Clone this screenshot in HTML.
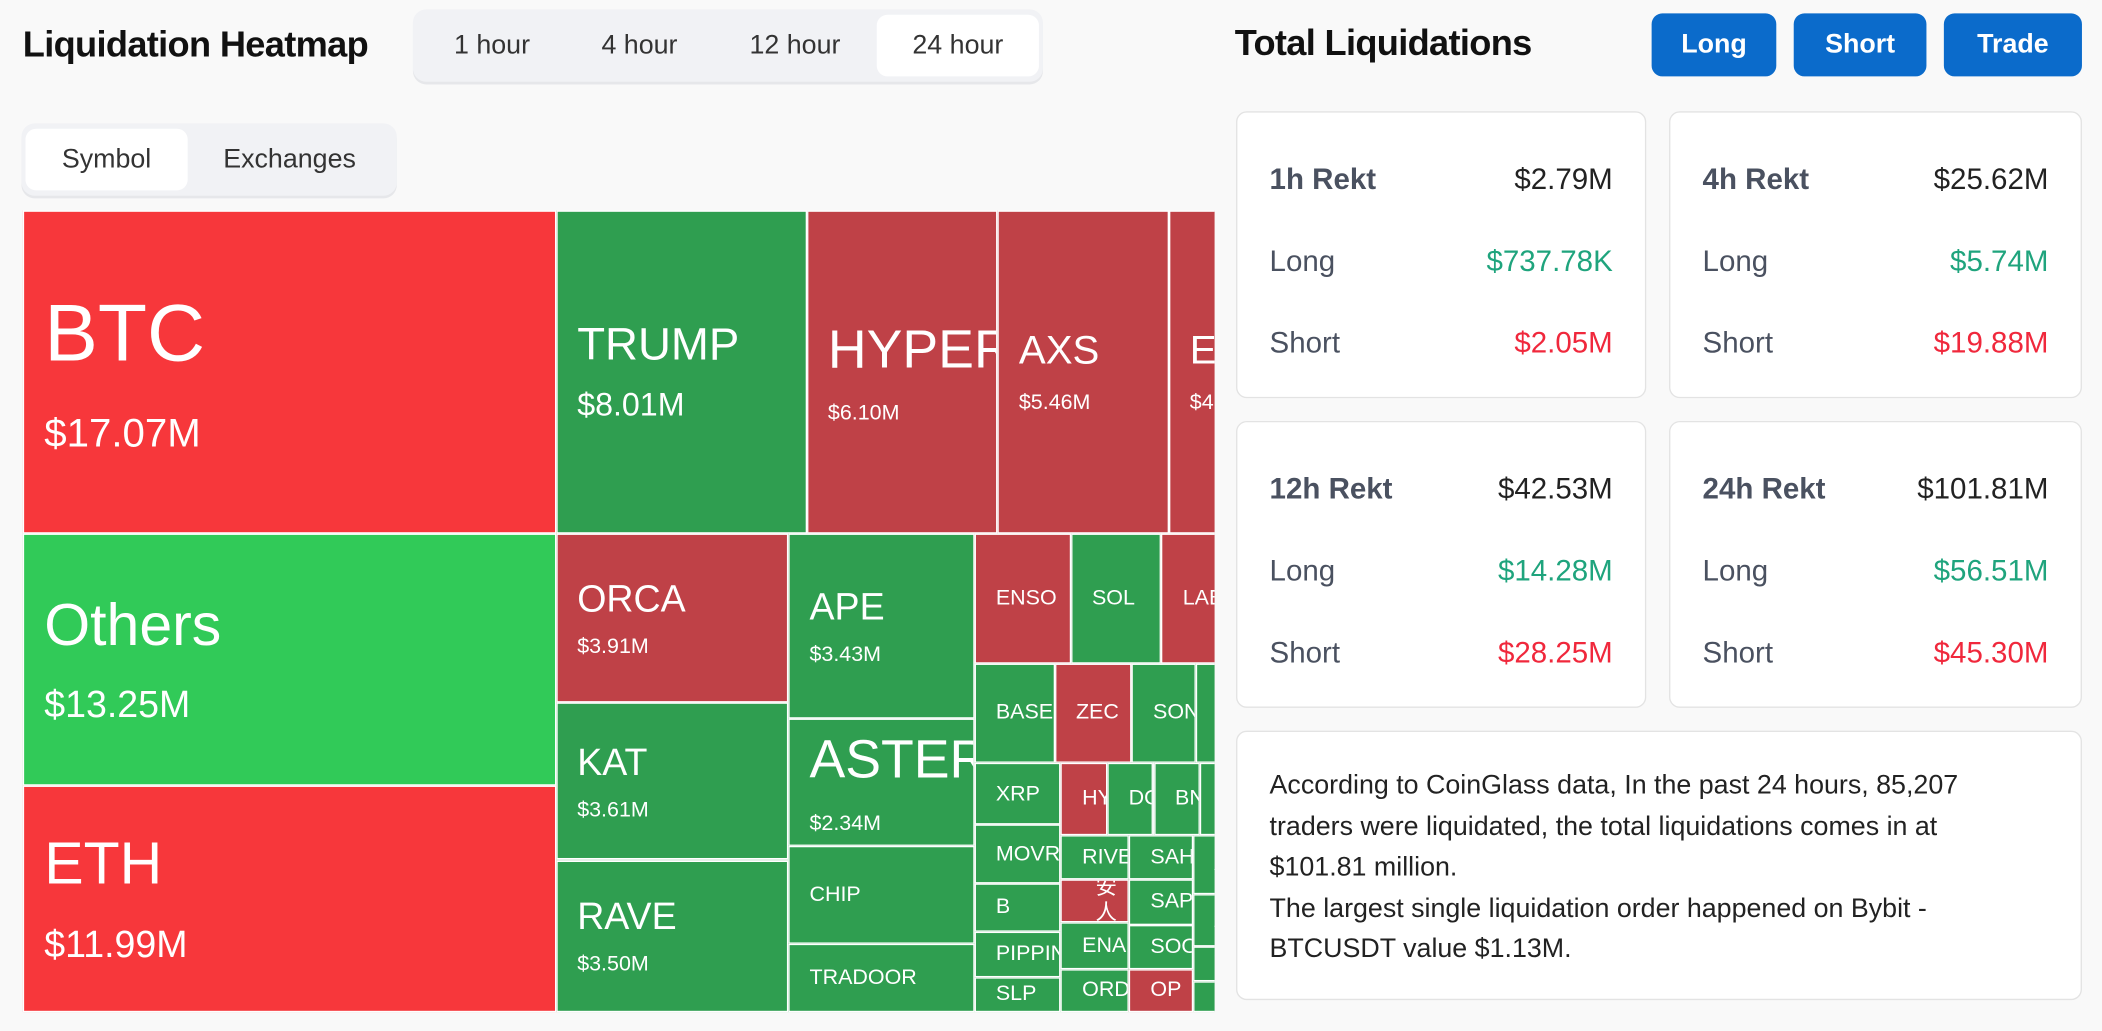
<!DOCTYPE html>
<html><head><meta charset="utf-8">
<style>
html,body{margin:0;padding:0;background:#f9f9f9;}
body{width:2102px;height:1030px;overflow:hidden;font-family:"Liberation Sans","Noto Sans CJK SC",sans-serif;}
#wrap{position:absolute;left:0;top:0;width:1568px;height:769px;transform:scale(1.3406);transform-origin:0 0;}
.abs{position:absolute;}
.title{font-weight:bold;font-size:27px;color:#111;letter-spacing:-0.5px;}
.tabs{background:#f1f2f5;border-radius:10px;box-shadow:0 2px 0 #e6e7ea;}
.tab{position:absolute;top:0;height:100%;display:flex;align-items:center;justify-content:center;font-size:20px;color:#333;}
.tab.active{background:#fff;border-radius:8px;}
.btn{background:#0b6bcb;color:#fff;font-weight:bold;font-size:20px;border-radius:8px;display:flex;align-items:center;justify-content:center;}
.card{background:#fff;border:1.5px solid #e3e3e3;border-radius:8px;box-sizing:border-box;}
.row{position:absolute;left:24px;right:24px;display:flex;justify-content:space-between;font-size:22px;height:30px;align-items:center;color:#4a5160;}
.v0{color:#222;} .vl{color:#1fa47d;} .vs{color:#f0283c;}
#map{position:absolute;left:17px;top:157px;width:889px;height:598px;overflow:hidden;}
.cell{position:absolute;box-sizing:border-box;border:0.75px solid #fff;overflow:hidden;color:#fff;display:flex;flex-direction:column;justify-content:center;padding-left:15px;}
.cell div{white-space:nowrap;line-height:1.2;}
</style></head><body>
<div id="wrap">
  <div class="abs title" style="left:17px;top:18px;">Liquidation Heatmap</div>
  <div class="abs tabs" style="left:308px;top:7px;width:470px;height:54px;">
    <div class="tab" style="left:0px;width:118px;">1 hour</div>
    <div class="tab" style="left:110px;width:118px;">4 hour</div>
    <div class="tab" style="left:226px;width:118px;">12 hour</div>
    <div class="tab active" style="left:346px;width:121px;top:4px;height:46px;">24 hour</div>
  </div>
  <div class="abs tabs" style="left:16px;top:92px;width:280px;height:54px;">
    <div class="tab active" style="left:3px;width:121px;top:4px;height:46px;">Symbol</div>
    <div class="tab" style="left:140px;width:120px;">Exchanges</div>
  </div>
  <div id="map"></div>

  <div class="abs title" style="left:921px;top:17px;">Total Liquidations</div>
  <div class="abs btn" style="left:1232px;top:10px;width:93px;height:47px;">Long</div>
  <div class="abs btn" style="left:1338px;top:10px;width:99px;height:47px;">Short</div>
  <div class="abs btn" style="left:1450px;top:10px;width:103px;height:47px;">Trade</div>

  <div class="abs card" style="left:922px;top:83px;width:306px;height:214px;">
    <div class="row" style="top:35px;"><span style="font-weight:600">1h Rekt</span><span class="v0">$2.79M</span></div>
    <div class="row" style="top:96px;"><span>Long</span><span class="vl">$737.78K</span></div>
    <div class="row" style="top:157px;"><span>Short</span><span class="vs">$2.05M</span></div>
  </div>
  <div class="abs card" style="left:1245px;top:83px;width:308px;height:214px;">
    <div class="row" style="top:35px;"><span style="font-weight:600">4h Rekt</span><span class="v0">$25.62M</span></div>
    <div class="row" style="top:96px;"><span>Long</span><span class="vl">$5.74M</span></div>
    <div class="row" style="top:157px;"><span>Short</span><span class="vs">$19.88M</span></div>
  </div>
  <div class="abs card" style="left:922px;top:314px;width:306px;height:214px;">
    <div class="row" style="top:35px;"><span style="font-weight:600">12h Rekt</span><span class="v0">$42.53M</span></div>
    <div class="row" style="top:96px;"><span>Long</span><span class="vl">$14.28M</span></div>
    <div class="row" style="top:157px;"><span>Short</span><span class="vs">$28.25M</span></div>
  </div>
  <div class="abs card" style="left:1245px;top:314px;width:308px;height:214px;">
    <div class="row" style="top:35px;"><span style="font-weight:600">24h Rekt</span><span class="v0">$101.81M</span></div>
    <div class="row" style="top:96px;"><span>Long</span><span class="vl">$56.51M</span></div>
    <div class="row" style="top:157px;"><span>Short</span><span class="vs">$45.30M</span></div>
  </div>
  <div class="abs card" style="left:922px;top:545px;width:631px;height:201px;">
    <div style="position:absolute;left:24px;top:25px;width:560px;font-size:20px;line-height:30.5px;color:#222;">According to CoinGlass data, In the past 24 hours, 85,207 traders were liquidated, the total liquidations comes in at $101.81 million.<br>The largest single liquidation order happened on Bybit - BTCUSDT value $1.13M.</div>
  </div>
</div>
<script>
const symbols=["BTC","Others","ETH","TRUMP","HYPER","AXS","EDGE","ORCA","KAT","RAVE","APE","ASTER","CHIP","TRADOOR","ENSO","SOL","LAB","LINK","BASE","ZEC","SON","SUI","DOGE","XRP","MOVR","B","PIPPIN","SLP","HYPE","DOT","BNB","WLD","LTC","RIVER","币安人生","ENA","ORD","SAHARA","SAPIEN","SOON","OP","ADA","AVAX","TON","PEPE","WIF","ARB"];
const amounts=[17.07,13.25,11.99,8.01,6.10,5.46,4.43,3.91,3.61,3.50,3.43,2.34,1.82,1.25,1.24,1.17,1.05,0.83,0.79,0.76,0.63,0.60,0.50,0.53,0.50,0.41,0.39,0.30,0.33,0.33,0.33,0.40,0.36,0.30,0.29,0.32,0.29,0.28,0.29,0.28,0.27,0.27,0.24,0.16,0.14,0.62,0.58];
const sides=["s","l","s","l","s","s","s","s","l","l","l","l","l","l","s","l","s","l","l","s","l","l","l","l","l","l","l","l","s","l","l","l","l","l","s","l","l","l","l","l","s","l","l","l","l","l","l"];
const nameSize={BTC:60,Others:44,ETH:44,TRUMP:34,HYPER:40,AXS:30,EDGE:30,ASTER:40,ORCA:28,KAT:28,RAVE:28,APE:28};
const valueSize={BTC:30,Others:28,ETH:28,TRUMP:24};
// layout structure (indices into the arrays above), H = split horizontally, V = split vertically
const tree=["H",["V",0,1,2],["V",["H",3,4,5,6],["H",["V",7,8,9],["V",10,11,12,13],["V",["H",14,15,16,17],["V",["H",18,19,20,21,22],["H",["V",23,24,25,26,27],["V",["H",28,29,30,31,32],["H",["V",33,34,35,36],["V",37,38,39,40],["V",41,42,43,44],["V",45,46]]]]]]]]];
const MAP_H=598, AREA_PER_M=5619;
function sum(n){return typeof n==="number"?amounts[n]:n.slice(1).reduce((a,c)=>a+sum(c),0);}
const map=document.getElementById('map');
function fmt(v){return "$"+v.toFixed(2)+"M";}
function place(n,x,y,w,h){
  if(typeof n!=="number"){
    const tot=sum(n);let off=0;
    n.slice(1).forEach(c=>{const f=sum(c)/tot;
      if(n[0]==="H"){place(c,x+off,y,w*f,h);off+=w*f;}else{place(c,x,y+off,w,h*f);off+=h*f;}});
    return;
  }
  const el=document.createElement('div');
  
  
  el.className='cell';
  el.style.left=x+'px';el.style.top=y+'px';el.style.width=w+'px';el.style.height=h+'px';
  el.style.background=sides[n]==="s"?(n<3?"#f7373b":"#bf4147"):(n<3?"#31ca58":"#2f9e50");
  const ns=nameSize[symbols[n]]||16;
  const nm=document.createElement('div');
  
  
  nm.textContent=symbols[n];nm.style.fontSize=ns+'px';
  if(/[^\x00-\x7f]/.test(symbols[n])){nm.style.whiteSpace='normal';nm.style.width='1em';nm.style.marginLeft='10px';}
  el.appendChild(nm);
  if(w*h>12000){
    const vl=document.createElement('div');
    
    
    vl.textContent=fmt(amounts[n]);vl.style.fontSize=(valueSize[symbols[n]]||16)+'px';vl.style.marginTop=(ns*0.35)+'px';
    el.appendChild(vl);
  }
  map.appendChild(el);
}
const total=sum(tree);
place(tree,0,0,total*AREA_PER_M/MAP_H,MAP_H);
</script>
</body></html>
